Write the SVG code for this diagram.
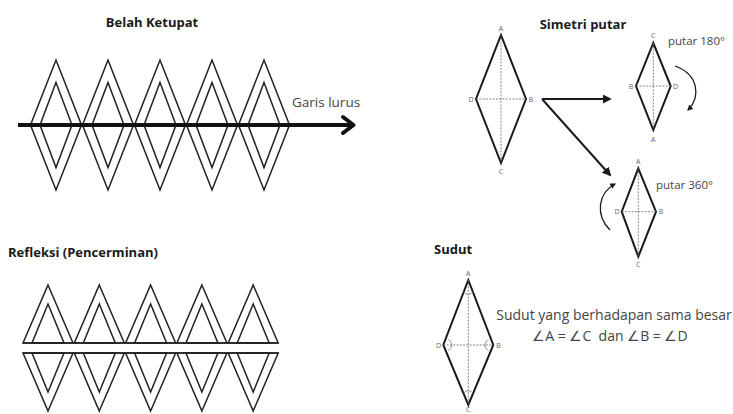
<svg xmlns="http://www.w3.org/2000/svg" width="733" height="414" viewBox="0 0 733 414">
<defs>
<style>
.title{font-family:"Open Sans","Liberation Sans",sans-serif;font-weight:bold;font-size:13px;fill:#1a1a1a}
.lbl{font-family:"Open Sans","Liberation Sans",sans-serif;font-size:7px;fill:#666;text-anchor:middle;dominant-baseline:central}
.txt{font-family:"Open Sans","Liberation Sans",sans-serif;fill:#444}
.thin{fill:none;stroke:#222;stroke-width:1.5;stroke-linejoin:miter}
.rh{fill:none;stroke:#1a1a1a;stroke-width:2;stroke-linejoin:miter}
.dash{fill:none;stroke:#666;stroke-width:0.8;stroke-dasharray:2 1.3}
.arc{fill:none;stroke:#777;stroke-width:0.8}
.con{fill:none;stroke:#1a1a1a;stroke-width:2}
</style>
<marker id="ah" viewBox="0 0 10 10" refX="8" refY="5" markerWidth="4.5" markerHeight="4.5" orient="auto" markerUnits="strokeWidth">
<path d="M0,0 L10,5 L0,10 z" fill="#1a1a1a"/>
</marker>
<g id="dia">
<path class="thin" d="M0,-65 L25.5,0 L0,65 L-25.5,0 Z"/>
<path class="thin" d="M0,-42.5 L16,0 L0,42.5 L-16,0 Z"/>
</g>
<g id="tri">
<path class="thin" d="M0,-58 L25,0 L-25,0 Z"/>
<path class="thin" d="M0,-39 L16,0 L-16,0 Z"/>
</g>
</defs>
<rect width="733" height="414" fill="#fff"/>

<g id="belah-ketupat">
<text class="title" x="152" y="27" text-anchor="middle" font-size="13.5">Belah Ketupat</text>
<use href="#dia" x="56" y="125"/>
<use href="#dia" x="108" y="125"/>
<use href="#dia" x="160" y="125"/>
<use href="#dia" x="212" y="125"/>
<use href="#dia" x="264" y="125"/>
<text class="txt" x="292" y="107" font-size="13.5" fill="#555">Garis lurus</text>
</g>

<g id="refleksi">
<text class="title" x="8" y="257" font-size="13.5">Refleksi (Pencerminan)</text>
<use href="#tri" x="48" y="343"/>
<use href="#tri" x="99.3" y="343"/>
<use href="#tri" x="150.6" y="343"/>
<use href="#tri" x="201.9" y="343"/>
<use href="#tri" x="253.2" y="343"/>
<use href="#tri" transform="translate(48,353) scale(1,-1)"/>
<use href="#tri" transform="translate(99.3,353) scale(1,-1)"/>
<use href="#tri" transform="translate(150.6,353) scale(1,-1)"/>
<use href="#tri" transform="translate(201.9,353) scale(1,-1)"/>
<use href="#tri" transform="translate(253.2,353) scale(1,-1)"/>
<line class="thin" x1="23" y1="343" x2="278.2" y2="343"/>
<line class="thin" x1="23" y1="353" x2="278.2" y2="353"/>
</g>

<g id="simetri-putar">
<text class="title" x="583" y="29" text-anchor="middle" font-size="14">Simetri putar</text>
</g>

<g id="rhombus-main">
<path class="rh" d="M501,35 L526,99 L501,163 L476,99 Z"/>
<path class="dash" d="M501,35 L501,163 M476,99 L526,99"/>
<text class="lbl" x="501" y="28">A</text>
<text class="lbl" x="501" y="171">C</text>
<text class="lbl" x="471" y="99">D</text>
<text class="lbl" x="531" y="99">B</text>
</g>

<g id="rhombus-180">
<path class="rh" d="M653.3,43 L670.7,86 L653.3,130 L636,86 Z"/>
<path class="dash" d="M653.3,43 L653.3,130 M636,86 L670.7,86"/>
<text class="lbl" x="653.3" y="35">C</text>
<text class="lbl" x="653.3" y="139">A</text>
<text class="lbl" x="631" y="86">B</text>
<text class="lbl" x="675.5" y="86">D</text>
<text class="txt" x="668" y="45" font-size="11.5">putar 180°</text>
</g>

<g id="rhombus-360">
<path class="rh" d="M638.3,168.3 L656,211.7 L638.3,256.7 L621.7,211.7 Z"/>
<path class="dash" d="M638.3,168.3 L638.3,256.7 M621.7,211.7 L656,211.7"/>
<text class="lbl" x="638.3" y="161">A</text>
<text class="lbl" x="638.3" y="264">C</text>
<text class="lbl" x="617" y="211.7">D</text>
<text class="lbl" x="661" y="211.7">B</text>
<text class="txt" x="656" y="189" font-size="11.5">putar 360°</text>
</g>

<g id="sudut">
<text class="title" x="434" y="254" font-size="13.5">Sudut</text>
<path class="rh" d="M468.3,280 L493.3,345 L468.3,405 L443.3,345 Z"/>
<path class="dash" d="M468.3,280 L468.3,405 M443.3,345 L493.3,345"/>
<path class="arc" d="M463.5,291.5 A5.5,5.5 0 0 0 473.1,291.5"/>
<path class="arc" d="M463.5,393.5 A5.5,5.5 0 0 1 473.1,393.5"/>
<path class="arc" d="M488.5,339.5 A6,6 0 0 0 488.5,350.5"/>
<path class="arc" d="M448.1,339.5 A6,6 0 0 1 448.1,350.5"/>
<text class="lbl" x="468.3" y="273">A</text>
<text class="lbl" x="438.5" y="345">D</text>
<text class="lbl" x="498.5" y="345">B</text>
<text class="lbl" x="468.3" y="409.5">C</text>
<text class="txt" x="614" y="320" font-size="14" text-anchor="middle">Sudut yang berhadapan sama besar</text>
<text class="txt" x="610" y="341" font-size="14" text-anchor="middle" xml:space="preserve">∠A = ∠C  dan ∠B = ∠D</text>
</g>

<g id="connectors">
<line x1="18" y1="125" x2="352" y2="125" stroke="#111" stroke-width="4"/>
<path d="M343,117 L353.5,125 L343,133" fill="none" stroke="#111" stroke-width="4" stroke-linecap="round" stroke-linejoin="round"/>
<line class="con" x1="542" y1="99" x2="610" y2="99" marker-end="url(#ah)"/>
<line class="con" x1="542" y1="99" x2="610" y2="175" marker-end="url(#ah)"/>
<path d="M675,66 C700,75 700,98 688,110" fill="none" stroke="#1a1a1a" stroke-width="1.3" marker-end="url(#ah)"/>
<path d="M610,230 C595,215 598,193 615,184" fill="none" stroke="#1a1a1a" stroke-width="1.3" marker-end="url(#ah)"/>
</g>
</svg>
